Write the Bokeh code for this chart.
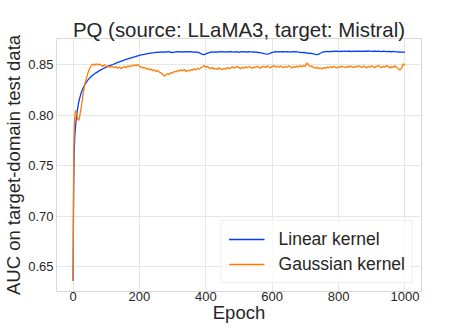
from bokeh.plotting import figure
from bokeh.models import Range1d, FixedTicker, CustomJSTickFormatter, Title
from bokeh.embed import file_html
from bokeh.resources import INLINE

# ---- data ----
epochs = [0, 1, 2, 3, 4, 5, 6, 7, 8, 9, 10, 12, 14, 16, 18, 20] + list(range(25, 1001, 5))

linear_kernel = [
    0.636, 0.690, 0.735, 0.758, 0.770, 0.778, 0.783, 0.787, 0.791, 0.795, 0.798, 0.803, 0.807, 0.811, 0.814, 0.817,
    0.8225, 0.8265, 0.8298, 0.8325, 0.8348, 0.8367, 0.8383, 0.8397, 0.8409, 0.8420,
    0.8430, 0.8440, 0.8449, 0.8458, 0.8466, 0.8474, 0.8481, 0.8488, 0.8494, 0.8500,
    0.8507, 0.8514, 0.8521, 0.8527, 0.8533, 0.8539, 0.8545, 0.8551, 0.8556, 0.8561,
    0.8566, 0.8571, 0.8576, 0.8581, 0.8586, 0.8590, 0.8594, 0.8598, 0.8601, 0.8604,
    0.8607, 0.8610, 0.8613, 0.8615, 0.8617, 0.8620, 0.8621, 0.8623, 0.8624, 0.8622,
    0.8625, 0.8623, 0.8626, 0.8624, 0.8621, 0.8618, 0.8622, 0.8625, 0.8627, 0.8624,
    0.8626, 0.8623, 0.8627, 0.8625, 0.8628, 0.8624, 0.8626, 0.8622, 0.8625, 0.8623,
    0.8621, 0.8617, 0.8608, 0.8601, 0.8598, 0.8604, 0.8612, 0.8618, 0.8621, 0.8624,
    0.8622, 0.8625, 0.8623, 0.8626, 0.8624, 0.8627, 0.8625, 0.8622, 0.8626, 0.8624,
    0.8627, 0.8625, 0.8623, 0.8626, 0.8624, 0.8621, 0.8625, 0.8627, 0.8624, 0.8626,
    0.8623, 0.8626, 0.8624, 0.8622, 0.8625, 0.8623, 0.8621, 0.8618, 0.8615, 0.8612,
    0.8608, 0.8605, 0.8603, 0.8606, 0.8612, 0.8619, 0.8623, 0.8626, 0.8624, 0.8627,
    0.8625, 0.8628, 0.8626, 0.8624, 0.8627, 0.8625, 0.8622, 0.8626, 0.8624, 0.8627,
    0.8625, 0.8623, 0.8620, 0.8617, 0.8619, 0.8616, 0.8613, 0.8610, 0.8612, 0.8608,
    0.8604, 0.8600, 0.8597, 0.8603, 0.8611, 0.8619, 0.8624, 0.8627, 0.8629, 0.8627,
    0.8630, 0.8628, 0.8631, 0.8629, 0.8632, 0.8630, 0.8628, 0.8631, 0.8629, 0.8632,
    0.8630, 0.8633, 0.8631, 0.8628, 0.8632, 0.8630, 0.8633, 0.8631, 0.8629, 0.8632,
    0.8630, 0.8633, 0.8631, 0.8634, 0.8632, 0.8630, 0.8633, 0.8631, 0.8629, 0.8632,
    0.8630, 0.8628, 0.8631, 0.8629, 0.8627, 0.8630, 0.8628, 0.8626, 0.8629, 0.8627,
    0.8625, 0.8623, 0.8624, 0.8622, 0.8623, 0.8621,
]

gaussian_kernel = [
    0.636, 0.715, 0.760, 0.780, 0.790, 0.797, 0.801, 0.8035, 0.8045, 0.8040, 0.8025, 0.7990, 0.7960, 0.7950, 0.7955, 0.7990,
    0.8085, 0.8205, 0.8300, 0.8365, 0.8420, 0.8460, 0.8490, 0.8505, 0.8492, 0.8508,
    0.8496, 0.8503, 0.8488, 0.8482, 0.8497, 0.8478, 0.8489, 0.8471, 0.8484, 0.8476,
    0.8468, 0.8481, 0.8462, 0.8475, 0.8458, 0.8471, 0.8480, 0.8469, 0.8486, 0.8478,
    0.8491, 0.8483, 0.8497, 0.8488, 0.8502, 0.8481, 0.8474, 0.8466, 0.8471, 0.8458,
    0.8462, 0.8447, 0.8455, 0.8439, 0.8446, 0.8431, 0.8440, 0.8425, 0.8418, 0.8402,
    0.8385, 0.8398, 0.8410, 0.8402, 0.8421, 0.8415, 0.8432, 0.8426, 0.8441, 0.8435,
    0.8448, 0.8437, 0.8452, 0.8429, 0.8444, 0.8436, 0.8451, 0.8442, 0.8458, 0.8447,
    0.8462, 0.8453, 0.8468, 0.8476, 0.8490, 0.8472, 0.8481, 0.8466, 0.8459, 0.8470,
    0.8455, 0.8463, 0.8451, 0.8468, 0.8457, 0.8449, 0.8462, 0.8454, 0.8471, 0.8460,
    0.8466, 0.8478, 0.8463, 0.8474, 0.8481, 0.8469, 0.8458, 0.8472, 0.8465, 0.8477,
    0.8468, 0.8480, 0.8473, 0.8462, 0.8476, 0.8469, 0.8484, 0.8471, 0.8463, 0.8478,
    0.8482, 0.8470, 0.8486, 0.8475, 0.8467, 0.8479, 0.8490, 0.8474, 0.8483, 0.8472,
    0.8485, 0.8476, 0.8468, 0.8481, 0.8473, 0.8487, 0.8478, 0.8466, 0.8480, 0.8471,
    0.8484, 0.8475, 0.8489, 0.8478, 0.8492, 0.8481, 0.8517, 0.8494, 0.8479, 0.8486,
    0.8470, 0.8463, 0.8474, 0.8458, 0.8467, 0.8455, 0.8469, 0.8461, 0.8476, 0.8466,
    0.8478, 0.8469, 0.8482, 0.8473, 0.8465, 0.8479, 0.8471, 0.8484, 0.8475, 0.8468,
    0.8481, 0.8472, 0.8486, 0.8477, 0.8469, 0.8483, 0.8474, 0.8488, 0.8479, 0.8470,
    0.8484, 0.8476, 0.8467, 0.8481, 0.8473, 0.8487, 0.8478, 0.8469, 0.8482, 0.8491,
    0.8477, 0.8468, 0.8483, 0.8474, 0.8490, 0.8479, 0.8466, 0.8481, 0.8472, 0.8487,
    0.8470, 0.8458, 0.8445, 0.8462, 0.8508, 0.8492,
]

x_ticks = [0, 200, 400, 600, 800, 1000]
y_ticks = [0.65, 0.70, 0.75, 0.80, 0.85]

title_text = "PQ (source: LLaMA3, target: Mistral)"
x_label = "Epoch"
y_label = "AUC on target-domain test data"
series_names = ["Linear kernel", "Gaussian kernel"]
colors = ["#023eff", "#ff7c00"]

FONT = "Liberation Sans"
TXT = "#262626"

p = figure(width=463, height=325, output_backend="svg", toolbar_location=None,
           x_range=Range1d(-50, 1050), y_range=Range1d(0.6256, 0.8757),
           title=None, min_border_right=42, min_border_left=52,
           min_border_top=0, min_border_bottom=0)

main_title = Title(text=title_text, align="center", text_font=FONT, text_font_size="20.4px",
                   text_font_style="normal", text_color=TXT, standoff=-5)
spacer = Title(text=" ", align="center", text_font=FONT, text_font_size="16px", standoff=0)
p.add_layout(main_title, "above")
p.add_layout(spacer, "above")

p.line(epochs, linear_kernel, line_color=colors[0], line_width=1.3, legend_label=series_names[0])
p.line(epochs, gaussian_kernel, line_color=colors[1], line_width=1.3, legend_label=series_names[1])

p.xaxis.ticker = FixedTicker(ticks=x_ticks)
p.yaxis.ticker = FixedTicker(ticks=y_ticks)
p.yaxis.formatter = CustomJSTickFormatter(code="return tick.toFixed(2);")

for ax in (p.xaxis[0], p.yaxis[0]):
    ax.axis_line_color = None
    ax.major_tick_line_color = None
    ax.minor_tick_line_color = None
    ax.major_tick_out = 0
    ax.major_tick_in = 0
    ax.minor_tick_out = 0
    ax.minor_tick_in = 0
    ax.major_label_text_font = FONT
    ax.major_label_text_font_size = "13px"
    ax.major_label_text_color = TXT
    ax.major_label_text_line_height = 1.0
    ax.axis_label_text_font = FONT
    ax.axis_label_text_font_size = "18.5px"
    ax.axis_label_text_font_style = "normal"
    ax.axis_label_text_color = TXT
    ax.axis_label_text_line_height = 1.0

p.yaxis.major_label_standoff = 3
p.yaxis.axis_label_standoff = 1
p.xaxis.major_label_standoff = 0
p.xaxis.axis_label_standoff = -2

p.xaxis.axis_label = x_label
p.yaxis.axis_label = y_label

p.xgrid.grid_line_color = "#e6e6e6"
p.ygrid.grid_line_color = "#e6e6e6"
p.outline_line_color = "#d9d9d9"
p.background_fill_color = "white"
p.border_fill_color = "white"

lg = p.legend[0]
lg.location = "bottom_right"
lg.margin = 8
lg.padding = 7
lg.spacing = 3
lg.label_text_font = FONT
lg.label_text_font_size = "17.5px"
lg.label_text_color = TXT
lg.label_standoff = 14
lg.glyph_width = 36
lg.glyph_height = 22
lg.label_height = 22
lg.border_line_color = "#e0e0e0"
lg.background_fill_alpha = 0.8

open("out.html", "w").write(file_html(p, INLINE))
